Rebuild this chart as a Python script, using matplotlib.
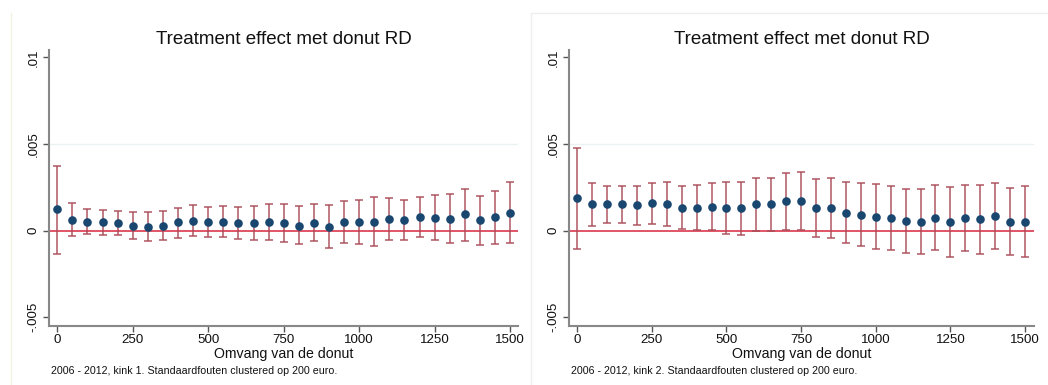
import matplotlib
matplotlib.use("Agg")
import matplotlib.pyplot as plt
from matplotlib.lines import Line2D
import numpy as np

plt.rcParams['font.family'] = ['Liberation Sans', 'DejaVu Sans']

donut = list(range(0, 1501, 50))

# Kink 1 (values in 1e-3)
k1_est = [1.22, 0.62, 0.52, 0.48, 0.44, 0.27, 0.23, 0.29, 0.48, 0.56, 0.48, 0.50, 0.42, 0.41, 0.50, 0.46,
          0.29, 0.46, 0.23, 0.50, 0.48, 0.52, 0.68, 0.60, 0.77, 0.73, 0.66, 0.93, 0.60, 0.77, 1.04]
k1_hi = [3.75, 1.60, 1.25, 1.20, 1.14, 1.06, 1.08, 1.14, 1.33, 1.45, 1.35, 1.39, 1.35, 1.39, 1.56, 1.56,
         1.39, 1.56, 1.45, 1.70, 1.76, 1.91, 1.89, 1.74, 1.95, 2.03, 2.10, 2.41, 2.01, 2.30, 2.80]
k1_lo = [-1.33, -0.33, -0.21, -0.27, -0.27, -0.50, -0.60, -0.56, -0.41, -0.29, -0.39, -0.39, -0.48, -0.56,
         -0.54, -0.66, -0.79, -0.62, -0.98, -0.69, -0.77, -0.89, -0.54, -0.52, -0.37, -0.56, -0.73, -0.58,
         -0.81, -0.77, -0.69]

# Kink 2 (values in 1e-3)
k2_est = [1.86, 1.53, 1.51, 1.51, 1.47, 1.57, 1.55, 1.32, 1.32, 1.36, 1.32, 1.28, 1.51, 1.51, 1.69, 1.71,
          1.32, 1.30, 1.03, 0.91, 0.81, 0.72, 0.56, 0.52, 0.72, 0.50, 0.70, 0.64, 0.85, 0.52, 0.48]
k2_hi = [4.79, 2.75, 2.60, 2.56, 2.60, 2.75, 2.79, 2.60, 2.64, 2.73, 2.83, 2.83, 3.04, 3.04, 3.33, 3.37,
         3.00, 3.04, 2.79, 2.75, 2.71, 2.60, 2.40, 2.38, 2.64, 2.52, 2.64, 2.64, 2.75, 2.48, 2.56]
k2_lo = [-1.05, 0.27, 0.45, 0.45, 0.35, 0.37, 0.29, 0.08, 0.02, 0.02, -0.17, -0.25, -0.02, 0.00, 0.06, 0.04,
         -0.39, -0.43, -0.72, -0.91, -1.09, -1.14, -1.30, -1.36, -1.14, -1.51, -1.20, -1.34, -1.05, -1.41, -1.55]

title = "Treatment effect met donut RD"
xlabel = "Omvang van de donut"
captions = ["2006 - 2012, kink 1. Standaardfouten clustered op 200 euro.",
            "2006 - 2012, kink 2. Standaardfouten clustered op 200 euro."]
yticks = [-0.005, 0, 0.005, 0.01]
yticklabels = ["-.005", "0", ".005", ".01"]
xticks = [0, 250, 500, 750, 1000, 1250, 1500]

W, H = 1048, 385
fig = plt.figure(figsize=(W / 100, H / 100), dpi=100)

# faint panel borders
fig.add_artist(Line2D([11 / W, 11 / W], [0, 1 - 13 / H], transform=fig.transFigure,
                      color='#f3f1e2', lw=1.0))
fig.add_artist(Line2D([531 / W, 531 / W, 1], [0, 1 - 13 / H, 1 - 13 / H], transform=fig.transFigure,
                      color='#eeeeee', lw=1.0))

panels = [
    dict(left=49, right=518, xmax=1526, data=(k1_est, k1_hi, k1_lo), cap=captions[0]),
    dict(left=569, right=1034, xmax=1530, data=(k2_est, k2_hi, k2_lo), cap=captions[1]),
]

ax_bottom_px = 325.7
ax_top_px = 50
for p in panels:
    ax = fig.add_axes([p['left'] / W, 1 - ax_bottom_px / H,
                       (p['right'] - p['left']) / W, (ax_bottom_px - ax_top_px) / H])
    est, hi, lo = [np.array(v) * 1e-3 for v in p['data']]
    x = np.array(donut)
    ax.axhline(0.005, color='#eaf2f3', lw=1.0, zorder=0)
    ax.axhline(0, color='#d7263d', lw=1.1, zorder=1)
    ax.errorbar(x, est, yerr=[est - lo, hi - est], fmt='none', ecolor='#a84a55', elinewidth=1.2,
                capsize=3.2, capthick=1.2, alpha=0.85, zorder=2)
    ax.plot(x, est, 'o', color='#1a476f', markersize=6.2, zorder=3, markeredgewidth=0)
    ax.set_xlim(-27.5, p['xmax'])
    ax.set_ylim(-0.00549, 0.01042)
    ax.set_xticks(xticks)
    ax.set_xticklabels([str(t) for t in xticks], fontsize=9.6)
    ax.set_yticks(yticks)
    ax.set_yticklabels(yticklabels, fontsize=9.5, rotation=90, va='center')
    for s in ['top', 'right']:
        ax.spines[s].set_visible(False)
    for s in ['left', 'bottom']:
        ax.spines[s].set_color('#888888')
        ax.spines[s].set_linewidth(1.5)
    ax.tick_params(axis='both', color='#555555', length=4, width=1, pad=3, labelcolor='#111111')
    ax.tick_params(axis='x', pad=2.2)
    ax.set_xlabel(xlabel, fontsize=10.2, labelpad=0.5, color='#111111')
    ax.set_title(title, fontsize=13.5, pad=4, color='#111111')
    ax.text(p['left'] / W + 2 / W, 1 - 371 / H, p['cap'], transform=fig.transFigure,
            fontsize=7.7, color='#111111', va='center', ha='left')

fig.savefig("out.png", dpi=100, facecolor='white')
